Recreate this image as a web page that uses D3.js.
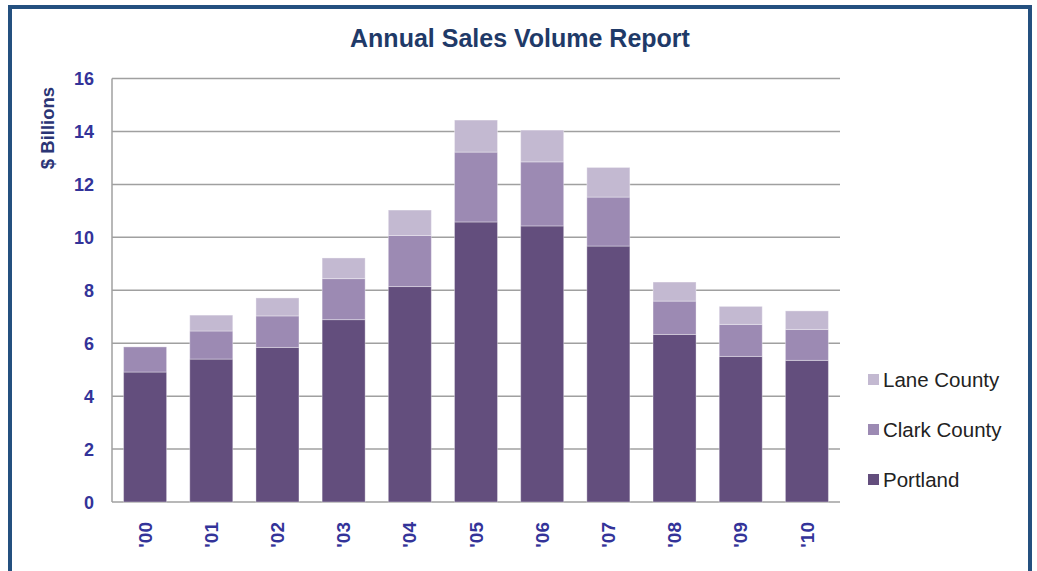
<!DOCTYPE html>
<html>
<head>
<meta charset="utf-8">
<script src="https://cdn.jsdelivr.net/npm/d3@7"></script>
<style>
  body { margin: 0; background: #fff; }
  svg { font-family: Arial, "Liberation Sans", sans-serif; }
</style>
</head>
<body>
<div id="chart"></div>
<script>
var years = ["'00", "'01", "'02", "'03", "'04", "'05", "'06", "'07", "'08", "'09", "'10"];
var portland = [4.91, 5.40, 5.84, 6.89, 8.14, 10.58, 10.43, 9.67, 6.33, 5.50, 5.35];
var clark    = [0.95, 1.06, 1.19, 1.55, 1.93, 2.64, 2.42, 1.85, 1.26, 1.21, 1.17];
var lane     = [0.00, 0.60, 0.68, 0.78, 0.96, 1.21, 1.20, 1.12, 0.72, 0.68, 0.70];
var seriesNames = ["Portland", "Clark County", "Lane County"];
var colors = ["#634e7d", "#9c8ab3", "#c3b9d1"];
var yTicks = [0, 2, 4, 6, 8, 10, 12, 14, 16];

var W = 1037, H = 571;
var margin = {top: 78.5, left: 112, right: 197, bottom: 69};
var width = W - margin.left - margin.right,
    height = H - margin.top - margin.bottom;

var svg = d3.select("#chart")
  .append("svg")
    .attr("width", W)
    .attr("height", H);

// outer frame
svg.append("rect")
    .attr("x", 10).attr("y", 7)
    .attr("width", 1020).attr("height", 580)
    .attr("fill", "none")
    .attr("stroke", "#24507f")
    .attr("stroke-width", 4);

svg.append("text")
    .attr("x", 520).attr("y", 47)
    .attr("text-anchor", "middle")
    .attr("font-size", 25)
    .attr("font-weight", 700)
    .attr("fill", "#1f3a68")
    .text("Annual Sales Volume Report");

var g = svg.append("g")
    .attr("transform", "translate(" + margin.left + "," + margin.top + ")");

var x = d3.scaleBand()
  .domain(years)
  .range([0, width])
  .paddingInner(0.35)
  .paddingOuter(0.175);

var y = d3.scaleLinear()
  .domain([0, 16])
  .range([height, 0]);

// gridlines
g.append("g")
  .selectAll("line")
  .data(yTicks)
  .enter()
  .append("line")
    .attr("x1", 0).attr("x2", width)
    .attr("y1", function (d) { return y(d); })
    .attr("y2", function (d) { return y(d); })
    .attr("stroke", "#a0a0a0")
    .attr("stroke-width", 1.5);

// stacked bars
var table = years.map(function (yr, i) {
  return {year: yr, "Portland": portland[i], "Clark County": clark[i], "Lane County": lane[i]};
});
var stacked = d3.stack().keys(seriesNames)(table);

g.selectAll("g.layer")
  .data(stacked)
  .enter()
  .append("g")
    .attr("class", "layer")
    .attr("fill", function (d, i) { return colors[i]; })
  .selectAll("rect")
  .data(function (d) { return d; })
  .enter()
  .append("rect")
    .attr("x", function (d) { return x(d.data.year); })
    .attr("y", function (d) { return y(d[1]); })
    .attr("width", x.bandwidth())
    .attr("height", function (d) { return y(d[0]) - y(d[1]); })
    .attr("stroke", "#ffffff")
    .attr("stroke-opacity", 0.35)
    .attr("stroke-width", 1);

// left axis line
g.append("line")
    .attr("x1", 0).attr("x2", 0)
    .attr("y1", 0).attr("y2", height)
    .attr("stroke", "#a0a0a0")
    .attr("stroke-width", 1.5);

// Y axis
var yAxis = g.append("g")
  .call(d3.axisLeft(y).tickValues(yTicks).tickSize(0).tickPadding(18));
yAxis.attr("font-family", null);
yAxis.select(".domain").remove();
yAxis.selectAll("text")
    .style("font-size", "18px")
    .style("font-weight", "700")
    .attr("fill", "#333399")
    .attr("dy", "0.35em");

// X axis
var xAxis = g.append("g")
  .attr("transform", "translate(0," + height + ")")
  .call(d3.axisBottom(x).tickSize(0));
xAxis.attr("font-family", null);
xAxis.select(".domain").remove();
xAxis.selectAll("text")
    .attr("transform", "rotate(-90)")
    .attr("text-anchor", "end")
    .attr("x", -20)
    .attr("y", 0)
    .attr("dy", "0.35em")
    .style("font-size", "19px")
    .style("font-weight", "700")
    .attr("fill", "#333399");

// y axis title
svg.append("text")
    .attr("transform", "translate(54,128) rotate(-90)")
    .attr("text-anchor", "middle")
    .attr("font-size", 18.5)
    .attr("font-weight", 700)
    .attr("fill", "#2b3575")
    .text("$ Billions");

// legend (top to bottom: Lane, Clark, Portland)
var legendOrder = [2, 1, 0];
var legend = svg.append("g")
  .selectAll("g")
  .data(legendOrder)
  .enter()
  .append("g")
    .attr("transform", function (d, i) { return "translate(868," + (380 + i * 50) + ")"; });

legend.append("rect")
    .attr("x", 0).attr("y", -6)
    .attr("width", 11).attr("height", 11)
    .attr("fill", function (d) { return colors[d]; });

legend.append("text")
    .attr("x", 15).attr("y", 0)
    .attr("dy", "0.35em")
    .attr("font-size", 20.5)
    .attr("fill", "#222")
    .text(function (d) { return seriesNames[d]; });
</script>
</body>
</html>
